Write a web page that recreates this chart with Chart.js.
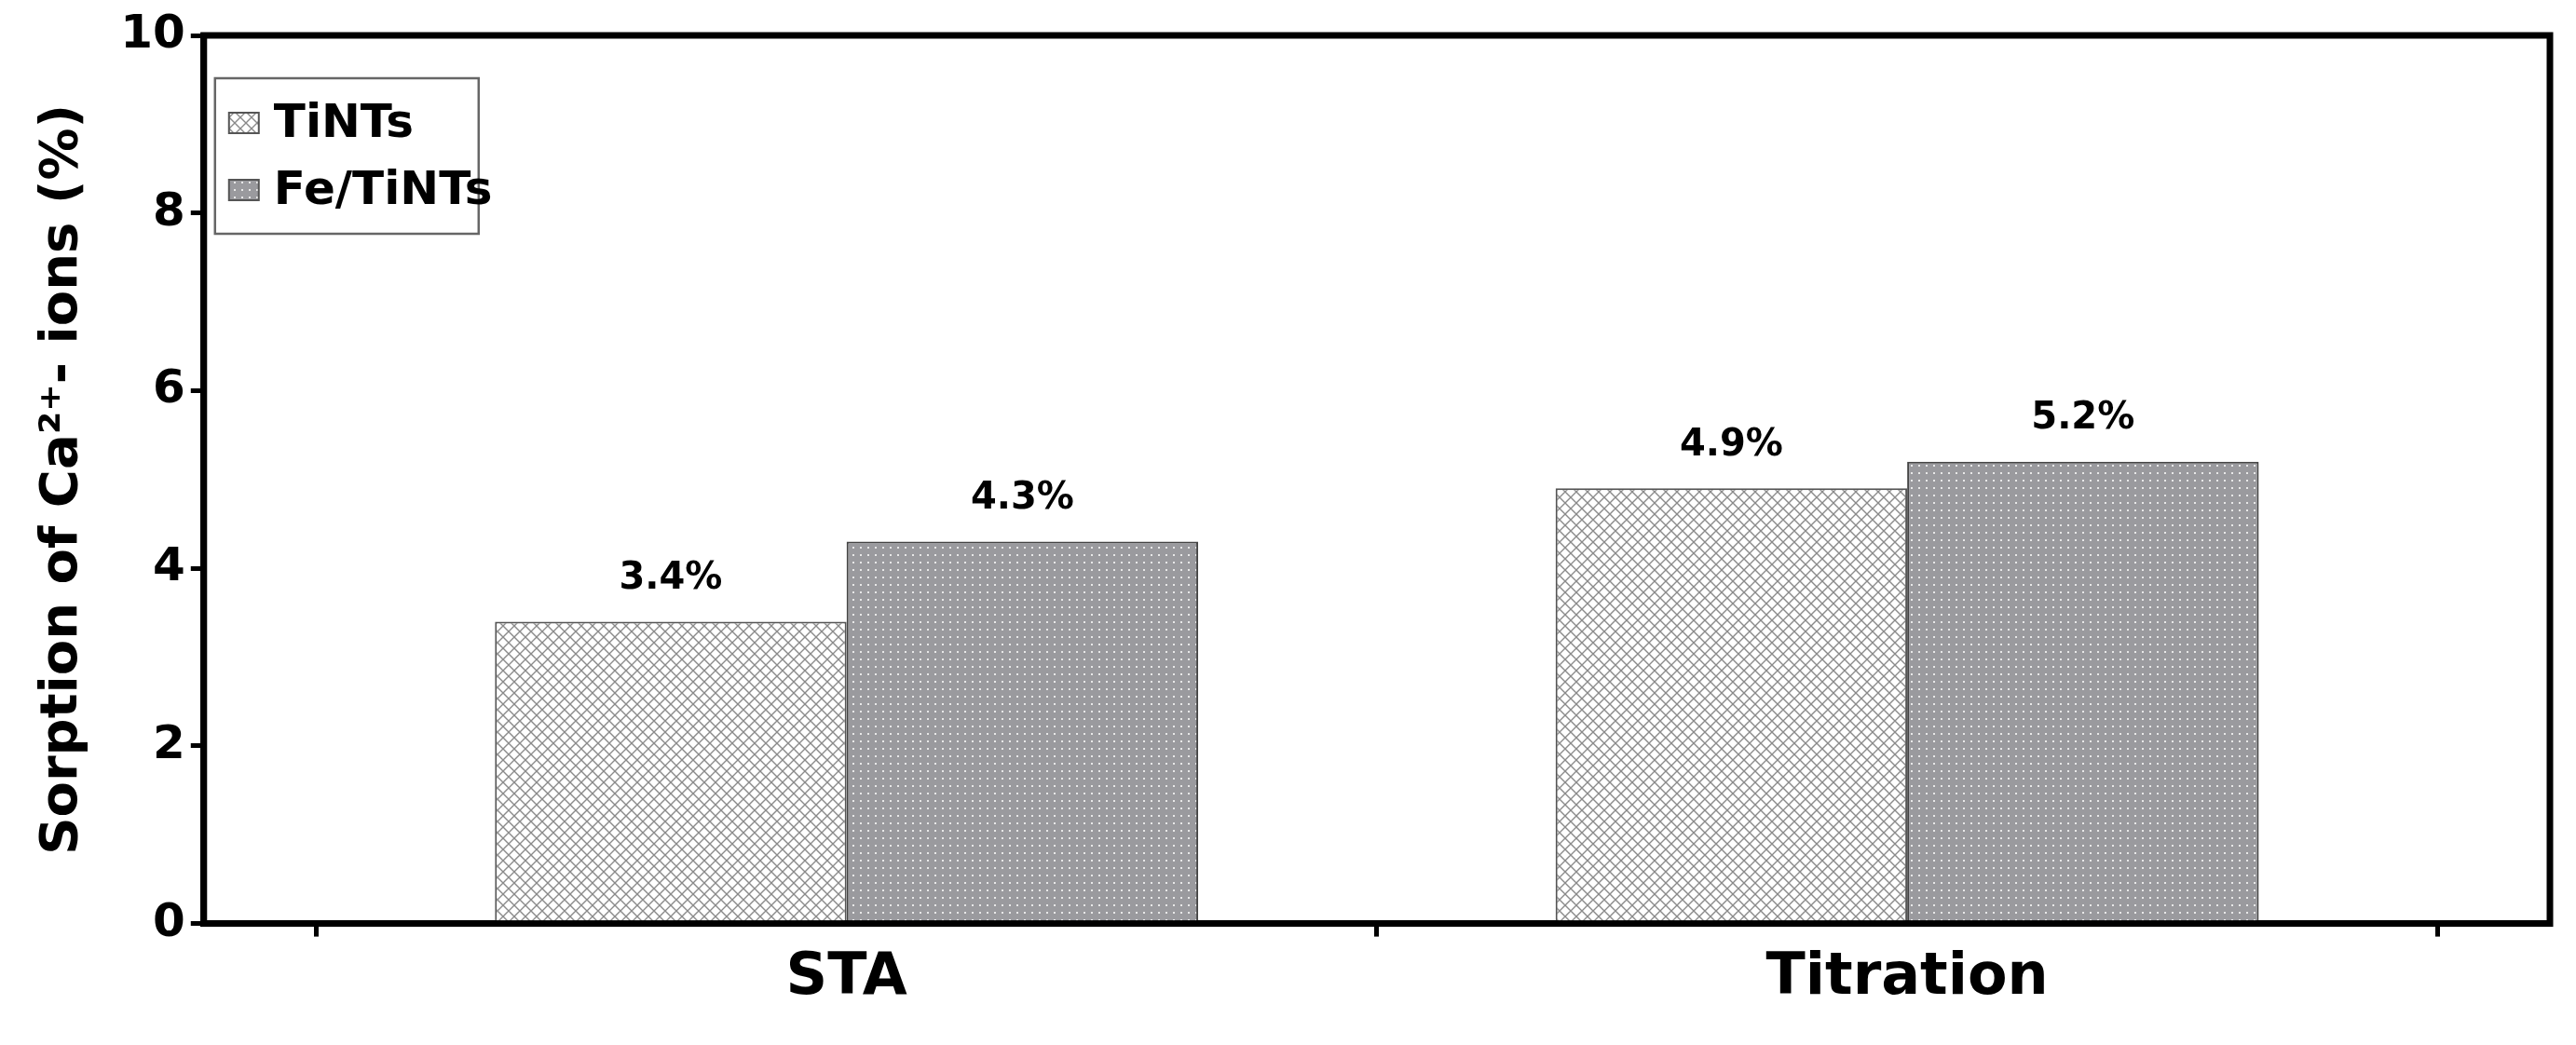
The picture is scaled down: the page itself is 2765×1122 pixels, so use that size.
<!DOCTYPE html>
<html>
<head>
<meta charset="utf-8">
<script src="https://cdn.jsdelivr.net/npm/chart.js@4"></script>
<style>
  html, body { margin: 0; padding: 0; background: #fff; }
  #wrap { width: 2765px; height: 1122px; }
</style>
</head>
<body>
<div id="wrap"><canvas id="chart"></canvas></div>
<script>
// データ
const categories = ['STA', 'Titration'];
const seriesNames = ['TiNTs', 'Fe/TiNTs'];
const tintsValues = [3.4, 4.9];
const feTintsValues = [4.3, 5.2];
const yTicks = [0, 2, 4, 6, 8, 10];

const FONT = "'DejaVu Sans', sans-serif";

// 網掛けパターン
function makeCrossHatch() {
    const c = document.createElement('canvas');
    c.width = 12; c.height = 12;
    const g = c.getContext('2d');
    g.fillStyle = '#ffffff';
    g.fillRect(0, 0, 12, 12);
    g.strokeStyle = '#8a8a8a';
    g.lineWidth = 1.4;
    g.beginPath();
    g.moveTo(0, 0); g.lineTo(12, 12);
    g.moveTo(12, 0); g.lineTo(0, 12);
    g.stroke();
    return g.createPattern(c, 'repeat');
}

function makeDots() {
    const c = document.createElement('canvas');
    c.width = 8; c.height = 8;
    const g = c.getContext('2d');
    g.fillStyle = '#9a9a9e';
    g.fillRect(0, 0, 8, 8);
    g.fillStyle = '#e8e8e8';
    g.fillRect(3, 3, 2, 2);
    return g.createPattern(c, 'repeat');
}

const hatch = makeCrossHatch();
const dots = makeDots();

const toPoints = vals => vals.map((v, i) => ({ x: i, y: v }));

// 値ラベル・外枠・凡例
const extras = {
    id: 'extras',
    afterDatasetsDraw(chart) {
        const ctx = chart.ctx;
        ctx.save();
        ctx.fillStyle = '#000';
        ctx.font = 'bold 40px ' + FONT;
        ctx.textAlign = 'center';
        ctx.textBaseline = 'bottom';
        chart.data.datasets.forEach((ds, di) => {
            chart.getDatasetMeta(di).data.forEach((bar, i) => {
                ctx.fillText(ds.data[i].y.toFixed(1) + '%', bar.x, bar.y - 26);
            });
        });
        const a = chart.chartArea;
        ctx.strokeStyle = '#000';
        ctx.lineWidth = 7;
        ctx.strokeRect(a.left, a.top, a.right - a.left, a.bottom - a.top);

        // 凡例
        const lx = a.left + 12, ly = a.top + 46;
        ctx.lineWidth = 2.5;
        ctx.strokeStyle = '#666';
        ctx.fillStyle = '#fff';
        ctx.fillRect(lx, ly, 283, 167);
        ctx.strokeRect(lx, ly, 283, 167);
        ctx.font = 'bold 50px ' + FONT;
        ctx.textAlign = 'left';
        ctx.textBaseline = 'middle';
        chart.data.datasets.forEach((ds, i) => {
            const cy = ly + 48 + i * 72;
            ctx.fillStyle = ds.backgroundColor;
            ctx.fillRect(lx + 15, cy - 11, 32, 22);
            ctx.strokeStyle = '#555';
            ctx.lineWidth = 2;
            ctx.strokeRect(lx + 15, cy - 11, 32, 22);
            ctx.fillStyle = '#000';
            ctx.fillText(ds.label, lx + 63, cy + 2);
        });
        ctx.restore();
    }
};

const tickGrid = {
    display: true,
    drawOnChartArea: false,
    drawTicks: true,
    tickLength: 14,
    tickWidth: 5,
    tickColor: '#000'
};

new Chart(document.getElementById('chart'), {
    type: 'bar',
    data: {
        datasets: [
            {
                label: seriesNames[0],
                data: toPoints(tintsValues),
                backgroundColor: hatch,
                borderColor: '#555',
                borderWidth: 2
            },
            {
                label: seriesNames[1],
                data: toPoints(feTintsValues),
                backgroundColor: dots,
                borderColor: '#444',
                borderWidth: 2
            }
        ]
    },
    options: {
        responsive: true,
        maintainAspectRatio: false,
        animation: false,
        layout: { padding: { left: 30, right: 28, top: 38, bottom: 26 } },
        plugins: {
            tooltip: { enabled: false },
            legend: { display: false }
        },
        scales: {
            x: {
                type: 'linear',
                min: -0.606,
                max: 1.606,
                offset: false,
                grid: tickGrid,
                border: { color: '#000', width: 7 },
                afterBuildTicks: axis => { axis.ticks = categories.map((_, i) => ({ value: i })); },
                ticks: {
                    color: '#000',
                    padding: 8,
                    font: { family: FONT, size: 62, weight: 'bold' },
                    callback: v => categories[v] ?? ''
                }
            },
            y: {
                min: 0,
                max: 10,
                afterBuildTicks: axis => { axis.ticks = yTicks.map(v => ({ value: v })); },
                grid: tickGrid,
                border: { color: '#000', width: 7 },
                ticks: {
                    color: '#000',
                    padding: 6,
                    font: { family: FONT, size: 50, weight: 'bold' }
                },
                title: {
                    display: true,
                    text: 'Sorption of Ca\u00B2\u207A- ions (%)',
                    color: '#000',
                    padding: { top: 4, bottom: 22 },
                    font: { family: FONT, size: 56, weight: 'bold' }
                }
            }
        },
        datasets: {
            bar: { categoryPercentage: 0.663, barPercentage: 1.0, grouped: true }
        }
    },
    plugins: [extras]
});
</script>
</body>
</html>
